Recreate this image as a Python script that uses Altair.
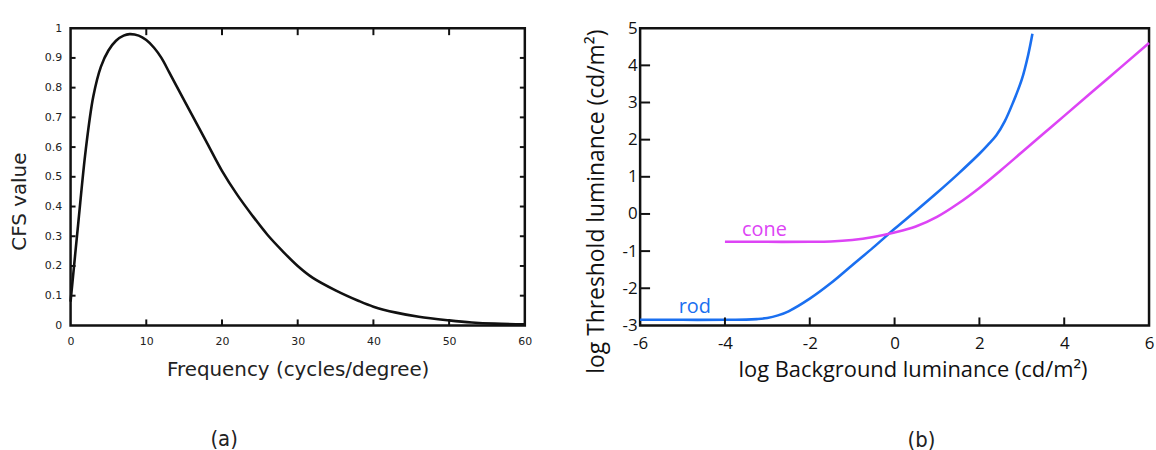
import altair as alt
import pandas as pd

# Panel (a): contrast sensitivity function
freq = [0, 1, 2, 3, 4, 5, 6, 7, 7.8, 9, 10, 11, 12, 13, 14, 16, 18, 20, 22,
        24, 26, 28, 30, 32, 35, 38, 40, 43, 46, 50, 53, 56, 60]
cfs = [0.08, 0.34, 0.59, 0.77, 0.87, 0.925, 0.958, 0.975, 0.98, 0.975, 0.96,
       0.935, 0.9, 0.853, 0.805, 0.71, 0.615, 0.52, 0.44, 0.37, 0.305, 0.25,
       0.2, 0.16, 0.118, 0.083, 0.063, 0.043, 0.029, 0.017, 0.01, 0.006, 0.004]
freq_ticks = [0, 10, 20, 30, 40, 50, 60]
cfs_ticks = [0, 0.1, 0.2, 0.3, 0.4, 0.5, 0.6, 0.7, 0.8, 0.9, 1]

# Panel (b): threshold-versus-intensity curves for rods and cones
rod_x = [-6, -5, -4, -3.5, -3.25, -3, -2.75, -2.5, -2, -1.5, -1, -0.5, 0, 0.5,
         1, 1.5, 2, 2.2, 2.4, 2.6, 2.8, 3.0, 3.15, 3.25]
rod_y = [-2.85, -2.85, -2.85, -2.845, -2.83, -2.8, -2.73, -2.62, -2.28, -1.86,
         -1.38, -0.9, -0.4, 0.08, 0.57, 1.08, 1.62, 1.86, 2.12, 2.5, 3.02, 3.62,
         4.28, 4.85]
cone_x = [-4, -3, -2, -1.5, -1, -0.5, 0, 0.5, 1, 1.5, 2, 2.5, 3, 3.5, 4, 5, 6]
cone_y = [-0.75, -0.75, -0.75, -0.74, -0.7, -0.62, -0.5, -0.34, -0.08, 0.28,
          0.7, 1.17, 1.66, 2.15, 2.64, 3.62, 4.6]
bg_ticks = [-6, -4, -2, 0, 2, 4, 6]
thr_ticks = [-3, -2, -1, 0, 1, 2, 3, 4, 5]
curve_labels = ["cone", "rod"]
label_x = [-3.07, -4.71]
label_y = [-0.6, -2.66]

ROD_COLOR = "#1a6ff0"
CONE_COLOR = "#dd44f5"
W1, H1 = 457, 299
W2, H2 = 512, 299
CAPTION_FONT = "Liberation Sans Narrow, DejaVu Sans Condensed, sans-serif"

# ---------- panel (a) ----------
cfs_df = pd.DataFrame({"freq": freq, "cfs": cfs})
xs_a = alt.Scale(domain=[0, 60], nice=False)
ys_a = alt.Scale(domain=[0, 1], nice=False)

axis_a = dict(grid=False, domain=False, ticks=False, labelFont="DejaVu Sans",
              labelFontSize=11, labelColor="#222222", labelExpr="datum.value + ''",
              labelOverlap=False, labelFlush=False,
              titleFont="DejaVu Sans", titleFontSize=20, titleFontWeight="normal",
              titleColor="#222222")
xaxis_a = alt.Axis(values=freq_ticks, labelPadding=10,
                   title="Frequency (cycles/degree)", titleY=34,
                   titleBaseline="top", **axis_a)
yaxis_a = alt.Axis(values=cfs_ticks, labelPadding=9, title="CFS value",
                   titleX=-41, titleY=174, titleAngle=270,
                   titleAlign="center", **axis_a)

curve_a = alt.Chart(cfs_df).mark_line(color="#111111", strokeWidth=2.6,
                                      interpolate="catmull-rom").encode(
    x=alt.X("freq:Q", scale=xs_a, axis=xaxis_a),
    y=alt.Y("cfs:Q", scale=ys_a, axis=yaxis_a),
)

# inward tick marks on all four sides of panel (a)
xt_a = pd.DataFrame({"v": freq_ticks[1:-1]})
yt_a = pd.DataFrame({"v": cfs_ticks[1:-1]})
tick_style = dict(color="#111111", strokeWidth=2)
ticks_a = [
    alt.Chart(xt_a).mark_rule(**tick_style).encode(
        x=alt.X("v:Q", scale=xs_a, axis=xaxis_a), y=alt.value(H1), y2=alt.value(H1 - 6)),
    alt.Chart(xt_a).mark_rule(**tick_style).encode(
        x=alt.X("v:Q", scale=xs_a, axis=xaxis_a), y=alt.value(0), y2=alt.value(7)),
    alt.Chart(yt_a).mark_rule(**tick_style).encode(
        y=alt.Y("v:Q", scale=ys_a, axis=yaxis_a), x=alt.value(0), x2=alt.value(5)),
    alt.Chart(yt_a).mark_rule(**tick_style).encode(
        y=alt.Y("v:Q", scale=ys_a, axis=yaxis_a), x=alt.value(W1), x2=alt.value(W1 - 5)),
]

panel_a = alt.layer(curve_a, *ticks_a).properties(
    width=W1, height=H1,
    title=alt.TitleParams("(a)", orient="bottom", anchor="middle", dx=-74,
                          offset=50, font=CAPTION_FONT, fontSize=22,
                          fontWeight="normal", color="#222222"),
)

# ---------- panel (b) ----------
tvi_df = pd.concat([
    pd.DataFrame({"bg": rod_x, "thr": rod_y, "cell": "rod"}),
    pd.DataFrame({"bg": cone_x, "thr": cone_y, "cell": "cone"}),
])
lab_df = pd.DataFrame({"bg": label_x, "thr": label_y, "cell": curve_labels})
xs_b = alt.Scale(domain=[-6, 6], nice=False)
ys_b = alt.Scale(domain=[-3, 5], nice=False)
color_b = alt.Color("cell:N", scale=alt.Scale(domain=["rod", "cone"],
                                              range=[ROD_COLOR, CONE_COLOR]),
                    legend=None)

axis_b = dict(grid=False, domain=False, ticks=False, labelFont="Open Sans",
              labelFontSize=17, labelColor="#111111", labelExpr="datum.value + ''",
              labelOverlap=False, labelFlush=False,
              titleFont="Open Sans", titleFontWeight="normal",
              titleColor="#111111")
xaxis_b = alt.Axis(values=bg_ticks, labelPadding=10,
                   title="log Background luminance (cd/m²)", titleX=274,
                   titleY=34, titleBaseline="top", titleFontSize=22, **axis_b)
yaxis_b = alt.Axis(values=thr_ticks, labelPadding=3,
                   title="log Threshold luminance  (cd/m²)", titleX=-32,
                   titleY=174, titleAngle=270, titleAlign="center",
                   titleFontSize=23, **axis_b)

curve_b = alt.Chart(tvi_df).mark_line(strokeWidth=2.6,
                                      interpolate="catmull-rom").encode(
    x=alt.X("bg:Q", scale=xs_b, axis=xaxis_b),
    y=alt.Y("thr:Q", scale=ys_b, axis=yaxis_b),
    color=color_b,
    detail="cell:N",
)

text_b = alt.Chart(lab_df).mark_text(font="Open Sans", fontSize=20,
                                     baseline="alphabetic", align="center").encode(
    x=alt.X("bg:Q", scale=xs_b, axis=xaxis_b),
    y=alt.Y("thr:Q", scale=ys_b, axis=yaxis_b),
    text="cell:N", color=color_b,
)

# inward tick marks on the left and bottom of panel (b)
xt_b = pd.DataFrame({"v": bg_ticks[1:-1]})
yt_b = pd.DataFrame({"v": thr_ticks[1:-1]})
ticks_b = [
    alt.Chart(xt_b).mark_rule(**tick_style).encode(
        x=alt.X("v:Q", scale=xs_b, axis=xaxis_b), y=alt.value(H2), y2=alt.value(H2 - 8)),
    alt.Chart(yt_b).mark_rule(**tick_style).encode(
        y=alt.Y("v:Q", scale=ys_b, axis=yaxis_b), x=alt.value(0), x2=alt.value(10)),
]

panel_b = alt.layer(curve_b, text_b, *ticks_b).properties(
    width=W2, height=H2,
    title=alt.TitleParams("(b)", orient="bottom", anchor="middle", dx=27,
                          offset=50, font=CAPTION_FONT, fontSize=22,
                          fontWeight="normal", color="#222222"),
)

chart = alt.hconcat(panel_a, panel_b, spacing=116, bounds="flush").properties(
    padding={"left": 8, "top": 16, "right": 0, "bottom": 0},
    background="white",
).configure_view(stroke="#111111", strokeWidth=2.5)

chart.save("out.html", embed_options={"renderer": "svg", "actions": False})
